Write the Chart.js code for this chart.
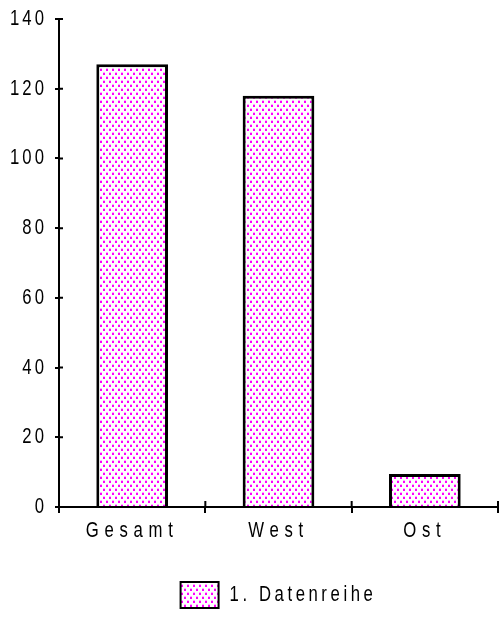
<!DOCTYPE html>
<html>
<head>
<meta charset="utf-8">
<script src="https://cdn.jsdelivr.net/npm/chart.js@4/dist/chart.umd.min.js"></script>
<style>
  html, body { margin: 0; padding: 0; background: #ffffff; }
  #wrap { width: 502px; height: 618px; }
</style>
</head>
<body>
<div id="wrap"><canvas id="c" width="502" height="618"></canvas></div>
<script>
// Categories and values
const categories = ['Gesamt', 'West', 'Ost'];
const seriesName = '1. Datenreihe';
const seriesValues = [127, 118, 9.5];
const yTicks = [0, 20, 40, 60, 80, 100, 120, 140];

const FONT_FAMILY = "'Liberation Sans', Arial, sans-serif";
const FONT_SIZE = 22;
const NARROW = 0.76;   // horizontal squeeze for a condensed look

// letter spacing (before squeeze): category labels are set wider than numbers
function spacingFor(text) {
  if (categories.includes(text)) return '7.5px';
  if (text === seriesName) return '4.7px';
  return '4px';
}

// Dotted magenta fill
function makeDotPattern() {
  const t = document.createElement('canvas');
  t.width = 6; t.height = 8;
  const g = t.getContext('2d');
  g.fillStyle = '#ffffff';
  g.fillRect(0, 0, 6, 8);
  const dot = (x, y) => {
    g.fillStyle = '#ffb0ff';
    g.fillRect(x, y, 2, 1);
    g.fillStyle = '#ff00ff';
    g.fillRect(x, y + 1, 2, 2);
  };
  dot(1, 0);
  dot(4, 4);
  return g.createPattern(t, 'repeat');
}
const dots = makeDotPattern();

// Condensed, letter-spaced text: squeeze glyphs horizontally around their anchor
const narrowText = {
  id: 'narrowText',
  beforeInit(chart) {
    const ctx = chart.ctx;
    const proto = CanvasRenderingContext2D.prototype;
    ctx.fillText = function (text, x, y, maxWidth) {
      this.save();
      this.letterSpacing = spacingFor(String(text));
      this.translate(x, y);
      this.scale(NARROW, 1);
      if (maxWidth !== undefined) proto.fillText.call(this, text, 0, 0, maxWidth / NARROW);
      else proto.fillText.call(this, text, 0, 0);
      this.restore();
    };
    ctx.measureText = function (text) {
      this.save();
      this.letterSpacing = spacingFor(String(text));
      const m = proto.measureText.call(this, text);
      this.restore();
      return {
        width: m.width * NARROW,
        actualBoundingBoxAscent: m.actualBoundingBoxAscent,
        actualBoundingBoxDescent: m.actualBoundingBoxDescent,
        actualBoundingBoxLeft: m.actualBoundingBoxLeft * NARROW,
        actualBoundingBoxRight: m.actualBoundingBoxRight * NARROW
      };
    };
  }
};

// Tick marks that cross the axis lines (inner half)
const crossTicks = {
  id: 'crossTicks',
  afterDraw(chart) {
    const ctx = chart.ctx;
    const xs = chart.scales.x, ys = chart.scales.y;
    ctx.save();
    ctx.strokeStyle = '#000';
    ctx.lineWidth = 2;
    ctx.beginPath();
    ys.ticks.forEach((t, i) => {
      const py = ys.getPixelForTick(i);
      ctx.moveTo(ys.right, py);
      ctx.lineTo(ys.right + 4, py);
    });
    const step = xs.getPixelForTick(1) - xs.getPixelForTick(0);
    for (let i = 0; i <= categories.length; i++) {
      const px = xs.getPixelForTick(0) - step / 2 + i * step;
      ctx.moveTo(px, xs.top);
      ctx.lineTo(px, xs.top - 6);
    }
    ctx.stroke();
    ctx.restore();
  }
};

new Chart(document.getElementById('c'), {
  type: 'bar',
  data: {
    labels: categories,
    datasets: [{
      label: seriesName,
      data: seriesValues,
      backgroundColor: dots,
      borderColor: '#000000',
      borderWidth: 3,
      borderSkipped: 'bottom',
      categoryPercentage: 1.0,
      barPercentage: 0.49
    }]
  },
  options: {
    responsive: false,
    animation: false,
    devicePixelRatio: 1,
    layout: { padding: { top: 19, right: 4, bottom: 0, left: 0 } },
    plugins: {
      tooltip: { enabled: false },
      legend: {
        display: true,
        position: 'bottom',
        fullSize: false,
        labels: {
          color: '#000',
          font: { family: FONT_FAMILY, size: FONT_SIZE },
          boxWidth: 38,
          boxHeight: 26,
          padding: 8,
          generateLabels(chart) {
            const items = Chart.defaults.plugins.legend.labels.generateLabels(chart);
            items.forEach(it => { it.lineWidth = 2; });
            return items;
          }
        }
      }
    },
    scales: {
      x: {
        offset: true,
        grid: {
          offset: true,
          drawOnChartArea: false,
          color: '#000',
          lineWidth: 2,
          tickLength: 6
        },
        border: { color: '#000', width: 2 },
        ticks: {
          color: '#000',
          font: { family: FONT_FAMILY, size: FONT_SIZE },
          padding: 5,
          maxRotation: 0
        },
        afterFit(scale) {
          scale.height = 67;
          scale.paddingLeft = 0;
          scale.paddingRight = 0;
        }
      },
      y: {
        min: 0,
        max: 140,
        afterBuildTicks(scale) { scale.ticks = yTicks.map(v => ({ value: v })); },
        grid: {
          drawOnChartArea: false,
          color: '#000',
          lineWidth: 2,
          tickLength: 4
        },
        border: { color: '#000', width: 2 },
        ticks: {
          color: '#000',
          font: { family: FONT_FAMILY, size: FONT_SIZE },
          padding: 8
        },
        afterFit(scale) {
          scale.width = 59;
          scale.paddingTop = 0;
          scale.paddingBottom = 0;
        }
      }
    }
  },
  plugins: [narrowText, crossTicks]
});
</script>
</body>
</html>
